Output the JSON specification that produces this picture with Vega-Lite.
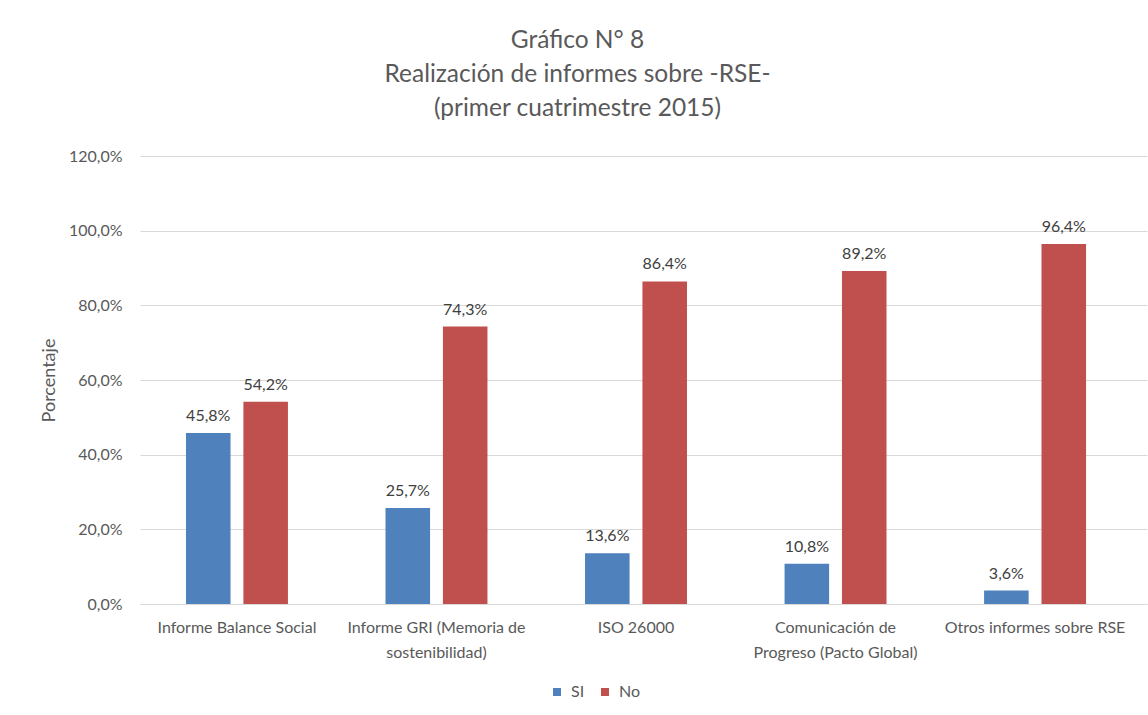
{
  "$schema": "https://vega.github.io/schema/vega-lite/v6.json",
  "width": 1007,
  "height": 448,
  "autosize": {"type": "none"},
  "padding": {"left": 140, "top": 156, "right": 1, "bottom": 111},
  "background": "white",
  "config": {
    "locale": {"number": {"decimal": ",", "thousands": ".", "grouping": [3], "currency": ["$", ""]}},
    "font": "Lato",
    "view": {"stroke": null}
  },
  "title": {
    "text": ["Gráfico N° 8", "Realización de informes sobre -RSE-", "(primer cuatrimestre 2015)"],
    "fontSize": 24.5,
    "font": "Lato",
    "fontWeight": "normal",
    "color": "#595959",
    "lineHeight": 34,
    "anchor": "middle",
    "dx": -66,
    "offset": 27
  },
  "data": {
    "values": [
      {"categoria": "Informe Balance Social", "respuesta": "SI", "valor": 0.458},
      {"categoria": "Informe Balance Social", "respuesta": "No", "valor": 0.542},
      {"categoria": "Informe GRI (Memoria de|sostenibilidad)", "respuesta": "SI", "valor": 0.257},
      {"categoria": "Informe GRI (Memoria de|sostenibilidad)", "respuesta": "No", "valor": 0.743},
      {"categoria": "ISO 26000", "respuesta": "SI", "valor": 0.136},
      {"categoria": "ISO 26000", "respuesta": "No", "valor": 0.864},
      {"categoria": "Comunicación de|Progreso (Pacto Global)", "respuesta": "SI", "valor": 0.108},
      {"categoria": "Comunicación de|Progreso (Pacto Global)", "respuesta": "No", "valor": 0.892},
      {"categoria": "Otros informes sobre RSE", "respuesta": "SI", "valor": 0.036},
      {"categoria": "Otros informes sobre RSE", "respuesta": "No", "valor": 0.964}
    ]
  },
  "encoding": {
    "x": {
      "field": "categoria",
      "type": "nominal",
      "sort": null,
      "scale": {"paddingInner": 0.489, "paddingOuter": 0.268, "align": 0.43},
      "axis": {
        "title": null,
        "labelAngle": 0,
        "labelExpr": "split(datum.label, '|')",
        "labelFontSize": 16,
        "labelColor": "#595959",
        "labelLineHeight": 25,
        "labelPadding": 15,
        "labelBaseline": "top",
        "ticks": false,
        "domainColor": "#D9D9D9",
        "domainWidth": 1,
        "labelLimit": 300
      }
    },
    "xOffset": {"field": "respuesta", "type": "nominal", "sort": ["SI", "No"], "scale": {"paddingInner": 0.224}},
    "y": {
      "field": "valor",
      "type": "quantitative",
      "scale": {"domain": [0, 1.2]},
      "axis": {
        "title": "Porcentaje",
        "titleFontSize": 18,
        "titleFontWeight": "normal",
        "titleColor": "#595959",
        "titlePadding": 10,
        "values": [0, 0.2, 0.4, 0.6, 0.8, 1.0, 1.2],
        "format": ".1%",
        "labelFontSize": 16,
        "labelColor": "#595959",
        "labelPadding": 18,
        "ticks": false,
        "domain": false,
        "gridColor": "#D9D9D9",
        "gridWidth": 1
      }
    }
  },
  "layer": [
    {
      "mark": {"type": "bar"},
      "encoding": {
        "color": {
          "field": "respuesta",
          "type": "nominal",
          "scale": {"domain": ["SI", "No"], "range": ["#4F81BD", "#C0504D"]},
          "legend": {
            "title": null,
            "orient": "none",
            "direction": "horizontal",
            "legendX": 409,
            "legendY": 528,
            "symbolType": "square",
            "symbolSize": 64,
            "symbolStrokeWidth": 0,
            "labelFontSize": 16,
            "labelColor": "#595959",
            "columnPadding": 12,
            "labelOffset": 6,
            "padding": 0
          }
        }
      }
    },
    {
      "mark": {"type": "text", "baseline": "alphabetic", "dy": -12, "fontSize": 16, "color": "#404040"},
      "encoding": {"text": {"field": "valor", "type": "quantitative", "format": ".1%"}}
    }
  ]
}
